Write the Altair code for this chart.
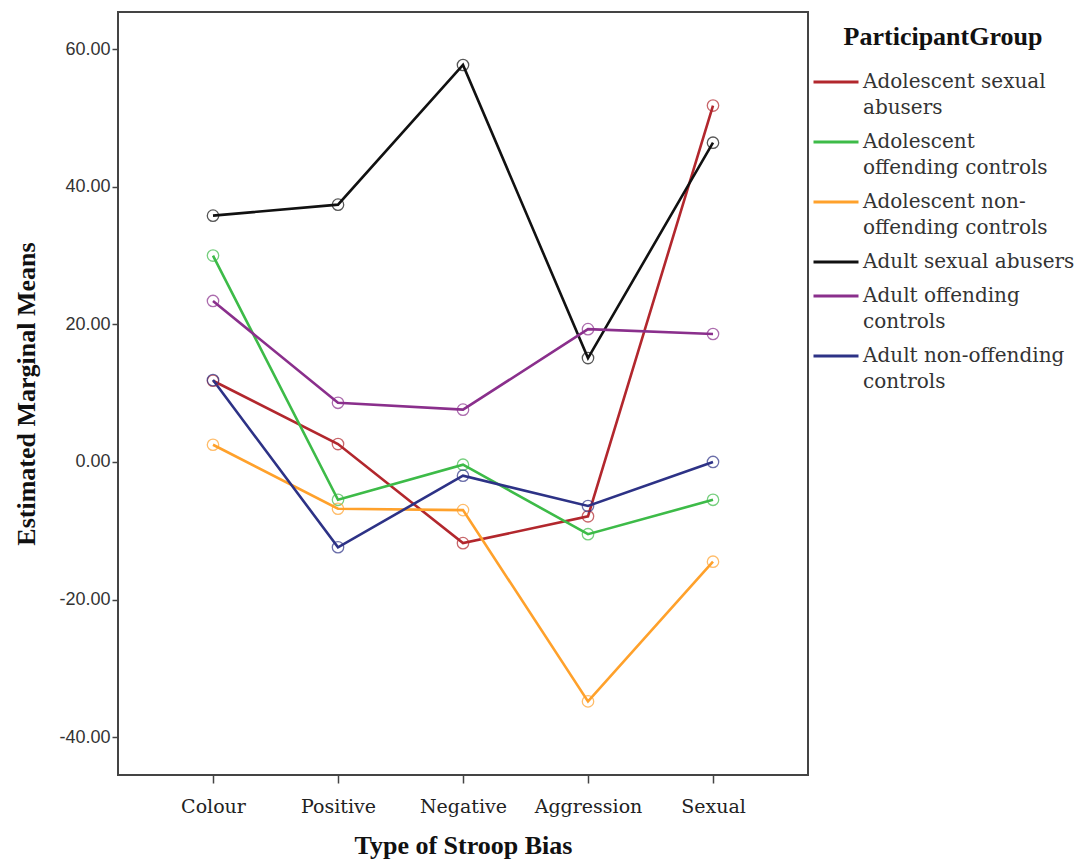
import altair as alt
import pandas as pd

categories = ["Colour", "Positive", "Negative", "Aggression", "Sexual"]
groups = [
    "Adolescent sexual abusers",
    "Adolescent offending controls",
    "Adolescent non-offending controls",
    "Adult sexual abusers",
    "Adult offending controls",
    "Adult non-offending controls",
]
legend_lines = {
    "Adolescent sexual abusers": "Adolescent sexual|abusers",
    "Adolescent offending controls": "Adolescent|offending controls",
    "Adolescent non-offending controls": "Adolescent non-|offending controls",
    "Adult sexual abusers": "Adult sexual abusers",
    "Adult offending controls": "Adult offending|controls",
    "Adult non-offending controls": "Adult non-offending|controls",
}
colors = ["#B2272D", "#3DBB48", "#FFA12B", "#111111", "#8A2F8C", "#2D3286"]

adol_sexual = [11.8, 2.6, -11.8, -7.9, 51.8]
adol_offending = [30.0, -5.5, -0.4, -10.5, -5.5]
adol_nonoffending = [2.5, -6.8, -7.0, -34.8, -14.5]
adult_sexual = [35.8, 37.4, 57.7, 15.1, 46.4]
adult_offending = [23.4, 8.6, 7.6, 19.3, 18.6]
adult_nonoffending = [11.9, -12.4, -2.0, -6.4, 0.0]

series = [adol_sexual, adol_offending, adol_nonoffending,
          adult_sexual, adult_offending, adult_nonoffending]

rows = []
for g, vals in zip(groups, series):
    for c, v in zip(categories, vals):
        rows.append({"group": g, "cat": c, "val": v})
df = pd.DataFrame(rows)

label_expr = "split({" + ",".join(
    f"'{k}':'{v}'" for k, v in legend_lines.items()) + "}[datum.label], '|')"

SERIF = "DejaVu Serif"
TITLE_FONT = "Liberation Serif"

x_enc = alt.X("cat:N", sort=categories,
              scale=alt.Scale(type="point", padding=0.76),
              axis=alt.Axis(title="Type of Stroop Bias", labelAngle=0,
                            labelFont=SERIF, labelFontSize=19,
                            labelColor="#222", labelPadding=14,
                            titleFont=TITLE_FONT, titleFontSize=26,
                            titleFontWeight="bold", titleColor="#111",
                            titlePadding=16, tickSize=8, tickColor="#444",
                            tickWidth=1.5, domain=False, grid=False))
y_enc = alt.Y("val:Q",
              scale=alt.Scale(domain=[-45.5, 65.4], nice=False, zero=False),
              axis=alt.Axis(title="Estimated Marginal Means",
                            values=[-40, -20, 0, 20, 40, 60],
                            labelExpr="(datum.value < 0 ? '-' : '') + format(abs(datum.value), '.2f')",
                            labelFont="Liberation Sans", labelFontSize=18,
                            labelColor="#333", labelPadding=2,
                            titleFont=TITLE_FONT, titleFontSize=26,
                            titleFontWeight="bold", titleColor="#111",
                            titlePadding=19, tickSize=6, tickColor="#444",
                            tickWidth=1.5, domain=False, grid=False))
color_enc = alt.Color("group:N", sort=groups,
                      scale=alt.Scale(domain=groups, range=colors),
                      legend=alt.Legend(
                          title="ParticipantGroup", orient="none",
                          legendX=694, legendY=12,
                          titleFont=TITLE_FONT, titleFontSize=26,
                          titleFontWeight="bold", titleColor="#111",
                          titleAnchor="middle", titlePadding=8,
                          titleLimit=400,
                          labelFont=SERIF, labelFontSize=20,
                          labelColor="#333", labelExpr=label_expr,
                          labelLimit=400, labelOffset=3,
                          symbolType="stroke", symbolSize=2025,
                          symbolStrokeWidth=3, rowPadding=0))

lines = alt.Chart(df).mark_line(strokeWidth=2.6).encode(
    x=x_enc, y=y_enc, color=color_enc, detail="group:N")
points = alt.Chart(df).mark_point(shape="circle", size=130, strokeWidth=1.3,
                                  filled=False).encode(
    x=x_enc, y=y_enc,
    color=alt.Color("group:N", sort=groups,
                    scale=alt.Scale(domain=groups, range=colors), legend=None))

chart = alt.layer(lines, points).properties(
    width=690, height=763,
    padding={"left": 118, "top": 12, "right": 279, "bottom": 91},
    autosize=alt.AutoSizeParams(type="none"),
    background="white",
).configure_view(stroke="#444", strokeWidth=2)
chart.config.style = {"guide-label": {"lineHeight": 26}}

chart.save("out.html", embed_options={"renderer": "svg", "actions": False})
